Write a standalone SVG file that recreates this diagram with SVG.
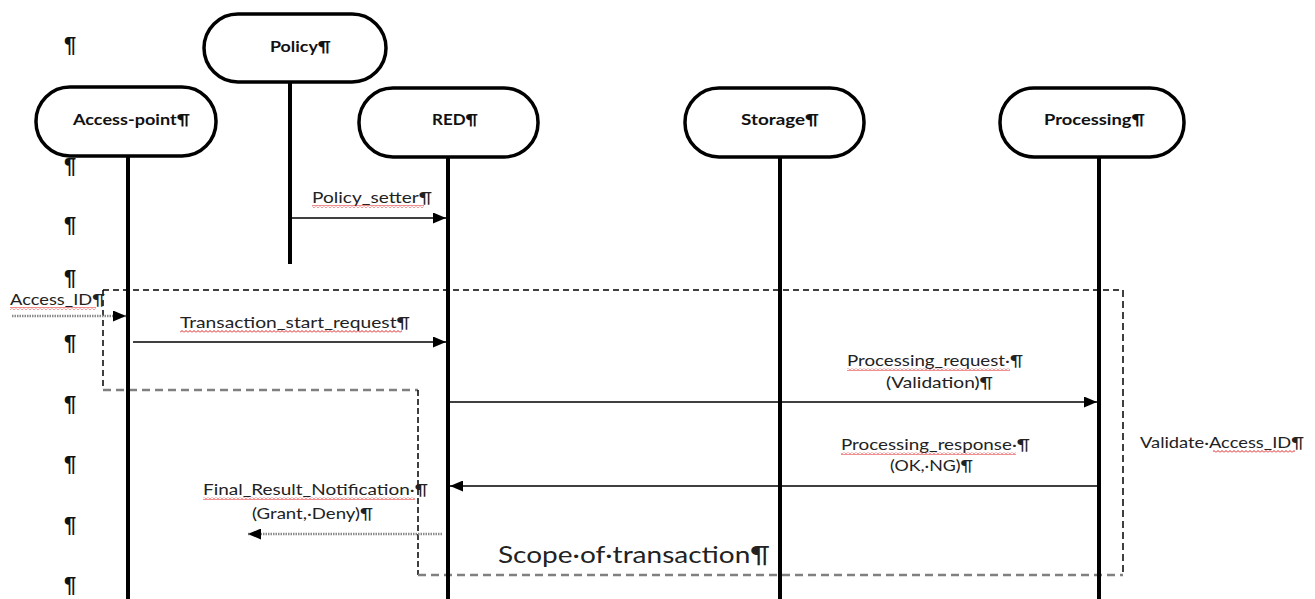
<svg xmlns="http://www.w3.org/2000/svg" width="1315" height="599" viewBox="0 0 1315 599">
<style>
.box{fill:#fff;stroke:#000;stroke-width:3.5}
.life{stroke:#000;stroke-width:4}
.nt{font-family:Lato,"Liberation Sans",sans-serif;font-weight:bold;font-size:16px;fill:#111}
.lb{font-family:Lato,"Liberation Sans",sans-serif;font-size:15px;fill:#222}
.pil{font-family:"Liberation Sans",sans-serif;font-size:22px;font-weight:bold;fill:#111}
.msg{stroke:#000;stroke-width:1.5;fill:none}
.dot{stroke:#8a8a8a;stroke-width:2.5;stroke-dasharray:1.5 1;fill:none}
.dk{stroke:#000;stroke-width:1.5;fill:none}
.gr{stroke:#808080;stroke-width:2.5;stroke-dasharray:8 5;fill:none}
.wv{fill:url(#wave)}
</style>
<defs>
<marker id="ah" markerUnits="userSpaceOnUse" markerWidth="13" markerHeight="11" refX="13" refY="5.5" orient="auto">
<path d="M0,0 L13,5.5 L0,11 z" fill="#000"/>
</marker>
<pattern id="wave" width="4" height="3" patternUnits="userSpaceOnUse">
<path d="M0,2.5 L2,0.5 L4,2.5" stroke="#e02020" stroke-width="1" fill="none"/>
</pattern>
</defs>
<rect width="1315" height="599" fill="#fff"/>

<g id="pilcrows">
<text class="pil" x="64" y="52">¶</text>
<text class="pil" x="64" y="173">¶</text>
<text class="pil" x="64" y="232">¶</text>
<text class="pil" x="64" y="285">¶</text>
<text class="pil" x="64" y="350">¶</text>
<text class="pil" x="64" y="411">¶</text>
<text class="pil" x="64" y="471">¶</text>
<text class="pil" x="64" y="532">¶</text>
<text class="pil" x="64" y="592">¶</text>
</g>

<g id="scope">
<path class="dk" d="M103,290 H1123" stroke-dasharray="6 4"/>
<path class="dk" d="M103,290 V390" stroke-dasharray="6 4"/>
<path class="gr" d="M103,390 H418"/>
<path class="dk" d="M418,390 V575" stroke-dasharray="6 3"/>
<path class="gr" d="M418,575 H1123"/>
<path class="dk" d="M1123,290 V575" stroke-dasharray="7 4"/>
<text x="498" y="563" font-family="Lato,'Liberation Sans',sans-serif" font-size="24" fill="#222" textLength="272" lengthAdjust="spacingAndGlyphs">Scope·of·transaction¶</text>
<text class="lb" x="1140" y="448" textLength="164" lengthAdjust="spacingAndGlyphs">Validate·Access_ID¶</text>
<rect class="wv" x="1213" y="450" width="82" height="3"/>
</g>

<g id="policy">
<line class="life" x1="290" y1="82" x2="290" y2="264"/>
<rect class="box" x="204" y="14" width="182" height="68" rx="34" ry="34"/>
<text class="nt" x="270" y="52" textLength="61" lengthAdjust="spacingAndGlyphs">Policy¶</text>
</g>

<g id="access-point">
<line class="life" x1="128" y1="156" x2="128" y2="599"/>
<rect class="box" x="36" y="87" width="180" height="69" rx="34" ry="34"/>
<text class="nt" x="73" y="125" textLength="117" lengthAdjust="spacingAndGlyphs">Access-point¶</text>
</g>

<g id="red">
<line class="life" x1="448" y1="156" x2="448" y2="599"/>
<rect class="box" x="359" y="88" width="179" height="69" rx="34" ry="34"/>
<text class="nt" x="432" y="125" textLength="46" lengthAdjust="spacingAndGlyphs">RED¶</text>
</g>

<g id="storage">
<line class="life" x1="780" y1="156" x2="780" y2="599"/>
<rect class="box" x="685" y="88" width="179" height="69" rx="34" ry="34"/>
<text class="nt" x="741" y="125" textLength="78" lengthAdjust="spacingAndGlyphs">Storage¶</text>
</g>

<g id="processing">
<line class="life" x1="1099" y1="156" x2="1099" y2="599"/>
<rect class="box" x="1000" y="88" width="184" height="69" rx="34" ry="34"/>
<text class="nt" x="1044" y="125" textLength="101" lengthAdjust="spacingAndGlyphs">Processing¶</text>
</g>

<g id="connectors">
<line class="msg" x1="291" y1="218" x2="446" y2="218" marker-end="url(#ah)"/>
<text class="lb" x="312" y="203" textLength="120" lengthAdjust="spacingAndGlyphs">Policy_setter¶</text>
<rect class="wv" x="312" y="205" width="112" height="3"/>

<line class="dot" x1="12" y1="316" x2="126" y2="316" marker-end="url(#ah)"/>
<text class="lb" x="10" y="305" textLength="95" lengthAdjust="spacingAndGlyphs">Access_ID¶</text>
<rect class="wv" x="10" y="307" width="86" height="3"/>

<line class="msg" x1="133" y1="342" x2="446" y2="342" marker-end="url(#ah)"/>
<text class="lb" x="180" y="328" textLength="230" lengthAdjust="spacingAndGlyphs">Transaction_start_request¶</text>
<rect class="wv" x="180" y="330" width="222" height="3"/>

<line class="msg" x1="450" y1="402" x2="1097" y2="402" marker-end="url(#ah)"/>
<text class="lb" x="847" y="366" textLength="176" lengthAdjust="spacingAndGlyphs">Processing_request·¶</text>
<rect class="wv" x="847" y="368" width="163" height="3"/>
<text class="lb" x="886" y="388" textLength="107" lengthAdjust="spacingAndGlyphs">(Validation)¶</text>

<line class="msg" x1="1097" y1="486" x2="450" y2="486" marker-end="url(#ah)"/>
<text class="lb" x="841" y="450" textLength="189" lengthAdjust="spacingAndGlyphs">Processing_response·¶</text>
<rect class="wv" x="841" y="452" width="175" height="3"/>
<text class="lb" x="890" y="471" textLength="83" lengthAdjust="spacingAndGlyphs">(OK,·NG)¶</text>

<line class="dot" x1="442" y1="534" x2="248" y2="534" marker-end="url(#ah)"/>
<text class="lb" x="203" y="495" textLength="225" lengthAdjust="spacingAndGlyphs">Final_Result_Notification·¶</text>
<rect class="wv" x="203" y="497" width="212" height="3"/>
<text class="lb" x="252" y="519" textLength="121" lengthAdjust="spacingAndGlyphs">(Grant,·Deny)¶</text>
</g>
</svg>
